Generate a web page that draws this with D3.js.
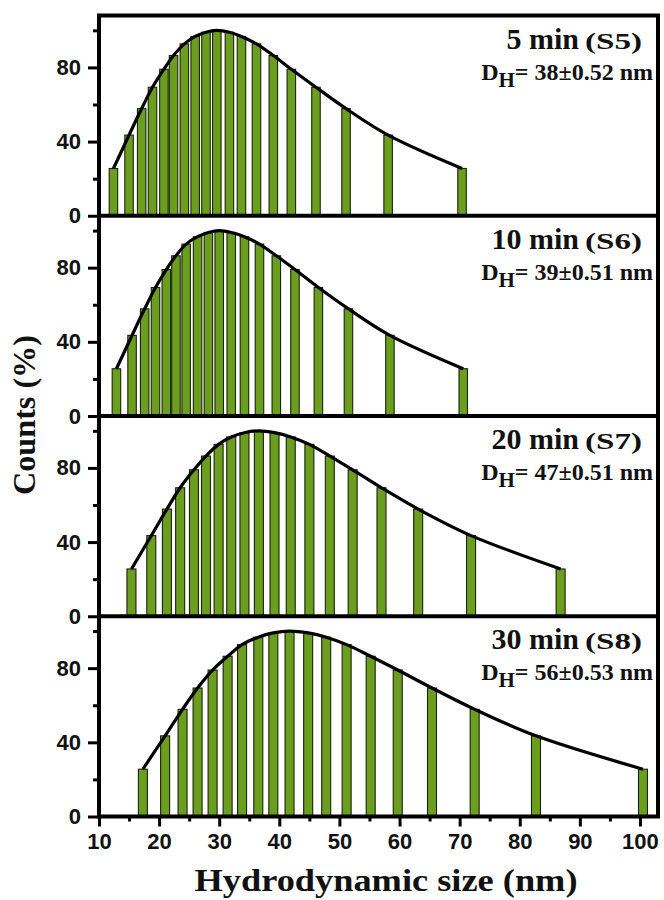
<!DOCTYPE html>
<html>
<head>
<meta charset="utf-8">
<script src="https://cdn.jsdelivr.net/npm/d3@7/dist/d3.min.js"></script>
<style>
  html, body { margin: 0; padding: 0; background: #fff; }
  svg { display: block; }
</style>
</head>
<body>
<div id="chart"></div>
<script>
// ---------- data ----------
const xTickValues = [10, 20, 30, 40, 50, 60, 70, 80, 90, 100];
const yTickValues = [0, 40, 80];
const timeLabels = ["5 min", "10 min", "20 min", "30 min"];
const sampleLabels = ["(S5)", "(S6)", "(S7)", "(S8)"];
const dhMeans = ["38", "39", "47", "56"];
const dhErrors = ["0.52", "0.51", "0.51", "0.53"];

const sizesS5 = [12.4, 15.0, 17.1, 18.9, 20.8, 22.4, 24.2, 26.0, 27.8, 29.6, 31.7, 33.7, 36.2, 39.0, 42.0, 46.1, 51.1, 58.1, 70.4];
const countsS5 = [25.5, 43.5, 57.8, 69.3, 79.0, 86.4, 92.7, 96.7, 99.0, 100, 99.0, 96.7, 92.7, 86.4, 79.0, 69.3, 57.8, 43.5, 25.5];

const sizesS6 = [12.9, 15.5, 17.6, 19.4, 21.2, 22.8, 24.5, 26.4, 28.2, 30.0, 32.0, 34.2, 36.7, 39.5, 42.6, 46.5, 51.5, 58.4, 70.6];
const countsS6 = [25.5, 43.5, 57.8, 69.3, 79.0, 86.4, 92.7, 96.7, 99.0, 100, 99.0, 96.7, 92.7, 86.4, 79.0, 69.3, 57.8, 43.5, 25.5];

const sizesS7 = [15.4, 18.7, 21.3, 23.5, 25.8, 27.8, 29.9, 32.0, 34.2, 36.6, 39.2, 41.9, 45.0, 48.4, 52.2, 57.0, 63.1, 71.9, 86.8];
const countsS7 = [25.5, 43.5, 57.8, 69.3, 79.0, 86.4, 92.7, 96.7, 99.0, 100, 99.0, 96.7, 92.7, 86.4, 79.0, 69.3, 57.8, 43.5, 25.5];

const sizesS8 = [17.3, 21.0, 23.9, 26.4, 28.9, 31.4, 33.8, 36.5, 39.0, 41.7, 44.8, 47.8, 51.2, 55.2, 59.7, 65.4, 72.5, 82.7, 100.5];
const countsS8 = [25.5, 43.5, 57.8, 69.3, 79.0, 86.4, 92.7, 96.7, 99.0, 100, 99.0, 96.7, 92.7, 86.4, 79.0, 69.3, 57.8, 43.5, 25.5];

const panelSizes = [sizesS5, sizesS6, sizesS7, sizesS8];
const panelCounts = [countsS5, countsS6, countsS7, countsS8];

(function () {
// ---------- layout ----------
const W = 664, H = 900;
const mLeft = 99, mRight = 658, mTop = 15.5, mBottom = 816.5;
const nPanels = 4;
const panelH = (mBottom - mTop) / nPanels;
const barWidths = [8.5, 8.5, 9, 9];
const serif = "'Liberation Serif', 'Times New Roman', Times, serif";
const sans = "'Liberation Sans', Arial, sans-serif";

const svg = d3.select("#chart").append("svg")
  .attr("width", W).attr("height", H);

const x = d3.scaleLinear().domain([10, 103]).range([mLeft, mRight]);

for (let p = 0; p < nPanels; p++) {
  const pTop = mTop + p * panelH;
  const pBot = pTop + panelH;
  const y = d3.scaleLinear().domain([0, 108]).range([pBot, pTop]);
  const g = svg.append("g");
  const data = panelSizes[p].map((s, i) => ({ s, c: panelCounts[p][i] }));

  // bars
  g.selectAll("rect.bar").data(data).enter().append("rect")
    .attr("class", "bar")
    .attr("x", d => x(d.s) - barWidths[p] / 2)
    .attr("width", barWidths[p])
    .attr("y", d => y(d.c))
    .attr("height", d => y(0) - y(d.c))
    .attr("fill", "#6b9d1f")
    .attr("stroke", "#1a2408")
    .attr("stroke-width", 1.1);

  // fitted curve
  const line = d3.line()
    .x(d => x(d.s))
    .y(d => y(d.c))
    .curve(d3.curveCatmullRom.alpha(0.5));
  g.append("path").datum(data)
    .attr("d", line)
    .attr("fill", "none")
    .attr("stroke", "#000")
    .attr("stroke-width", 3.2);

  // y axis major
  const yAxis = d3.axisLeft(y).tickValues(yTickValues).tickSize(11).tickSizeOuter(0).tickPadding(7);
  const ya = g.append("g").attr("transform", `translate(${mLeft},0)`).call(yAxis);
  ya.select(".domain").remove();
  ya.selectAll(".tick line").attr("stroke", "#000").attr("stroke-width", 3);
  ya.selectAll(".tick text")
    .attr("font-family", sans).attr("font-weight", "bold")
    .attr("font-size", 22).attr("fill", "#111");
  // y axis minor
  const yMinor = d3.axisLeft(y).tickValues([20, 60, 100]).tickSize(6).tickFormat("");
  const ym = g.append("g").attr("transform", `translate(${mLeft},0)`).call(yMinor);
  ym.select(".domain").remove();
  ym.selectAll(".tick line").attr("stroke", "#000").attr("stroke-width", 3);

  // panel labels
  g.append("text")
    .attr("x", 642).attr("y", pTop + 33)
    .attr("text-anchor", "end")
    .attr("font-family", serif).attr("font-weight", "bold").attr("fill", "#111")
    .attr("font-size", 24)
    .attr("textLength", 57).attr("lengthAdjust", "spacingAndGlyphs")
    .text(sampleLabels[p]);
  g.append("text")
    .attr("x", 579).attr("y", pTop + 33)
    .attr("text-anchor", "end")
    .attr("font-family", serif).attr("font-weight", "bold").attr("fill", "#111")
    .attr("font-size", 30)
    .text(timeLabels[p]);

  const dh = g.append("text")
    .attr("x", 653).attr("y", pTop + 64)
    .attr("text-anchor", "end")
    .attr("font-family", serif).attr("font-weight", "bold").attr("fill", "#111")
    .attr("font-size", 24);
  dh.append("tspan").text("D");
  dh.append("tspan").attr("font-size", 21).attr("dy", 7).text("H");
  dh.append("tspan").attr("dy", -7).text("= " + dhMeans[p] + "±" + dhErrors[p] + " nm");
}

// x axis
const xAxis = d3.axisBottom(x).tickValues(xTickValues).tickSize(10).tickSizeOuter(0).tickPadding(7);
const xa = svg.append("g").attr("transform", `translate(0,${mBottom})`).call(xAxis);
xa.select(".domain").remove();
xa.selectAll(".tick line").attr("stroke", "#000").attr("stroke-width", 3);
xa.selectAll(".tick text")
  .attr("font-family", sans).attr("font-weight", "bold")
  .attr("font-size", 22).attr("fill", "#111");
const xMinor = d3.axisBottom(x).tickValues(d3.range(15, 100, 10)).tickSize(5).tickFormat("");
const xm = svg.append("g").attr("transform", `translate(0,${mBottom})`).call(xMinor);
xm.select(".domain").remove();
xm.selectAll(".tick line").attr("stroke", "#000").attr("stroke-width", 3);

// frame and panel separators
svg.append("rect")
  .attr("x", mLeft).attr("y", mTop)
  .attr("width", mRight - mLeft).attr("height", mBottom - mTop)
  .attr("fill", "none").attr("stroke", "#000").attr("stroke-width", 4);
for (let p = 1; p < nPanels; p++) {
  svg.append("line")
    .attr("x1", mLeft).attr("x2", mRight)
    .attr("y1", mTop + p * panelH).attr("y2", mTop + p * panelH)
    .attr("stroke", "#000").attr("stroke-width", 4);
}

// axis titles
svg.append("text")
  .attr("x", 386).attr("y", 891)
  .attr("text-anchor", "middle")
  .attr("font-family", serif).attr("font-weight", "bold")
  .attr("font-size", 32).attr("fill", "#111")
  .attr("textLength", 383).attr("lengthAdjust", "spacingAndGlyphs")
  .text("Hydrodynamic size (nm)");

svg.append("text")
  .attr("transform", "translate(35,415) rotate(-90)")
  .attr("text-anchor", "middle")
  .attr("font-family", serif).attr("font-weight", "bold")
  .attr("font-size", 32).attr("fill", "#111")
  .attr("textLength", 160).attr("lengthAdjust", "spacingAndGlyphs")
  .text("Counts (%)");
})();
</script>
</body>
</html>
